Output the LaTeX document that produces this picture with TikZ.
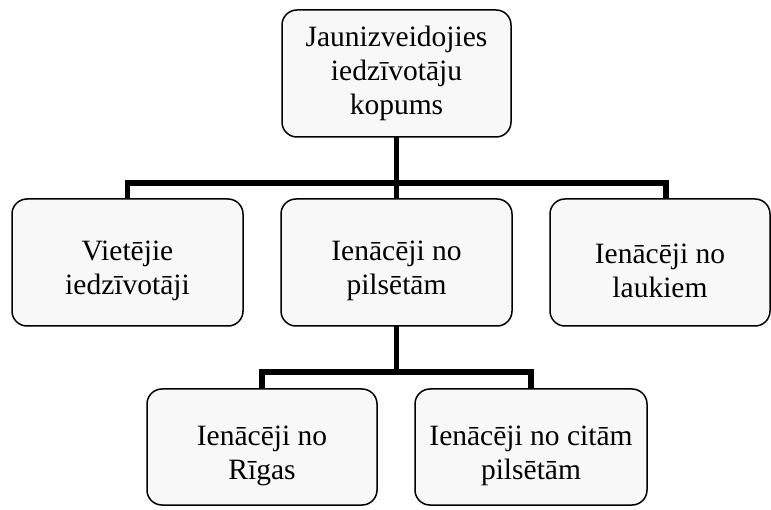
\documentclass[tikz,border=0pt]{standalone}
\usepackage{fontspec}
\setmainfont{Liberation Serif}
\definecolor{boxfill}{RGB}{248,248,248}
\newcommand\lowstrut{\rule{0pt}{37pt}}
\begin{document}
\begin{tikzpicture}[x=1pt,y=-1pt,
  box/.style={draw=black, line width=1.5pt, fill=boxfill, rounded corners=15pt,
    align=center, inner sep=0pt, outer sep=0pt,
    font=\fontsize{29.5}{34}\selectfont},
  conn/.style={draw=black, line width=5.5pt, line join=miter, line cap=butt}]
\useasboundingbox[fill=white] (0,0) rectangle (771,510);
\node[box, minimum width=229pt, minimum height=127pt] (top) at (396.5,73.5) {Jaunizveidojies\\iedzīvotāju\\kopums};
\node[box, minimum width=231pt, minimum height=127pt] (left) at (127.5,262.5) {\lowstrut Vietējie\\iedzīvotāji};
\node[box, minimum width=231pt, minimum height=127pt] (mid) at (396.5,262.5) {\lowstrut Ienācēji no\\pilsētām};
\node[box, minimum width=220pt, minimum height=127pt] (right) at (660,262.5) {\lowstrut Ienācēji no\\laukiem};
\node[box, minimum width=230pt, minimum height=116pt] (bl) at (262,447) {\lowstrut Ienācēji no\\Rīgas};
\node[box, minimum width=232pt, minimum height=116pt] (br) at (531,447) {\lowstrut Ienācēji no citām\\pilsētām};
\coordinate (hub1) at (396.5,183);
\coordinate (rtop) at (666,199);
\coordinate (hub2) at (396.5,372);
\draw[conn] (top.south) -- (mid.north);
\draw[conn] (left.north) |- (hub1) -| (rtop);
\draw[conn] (mid.south) -- (hub2);
\draw[conn] (bl.north) |- (hub2) -| (br.north);
\end{tikzpicture}
\end{document}
